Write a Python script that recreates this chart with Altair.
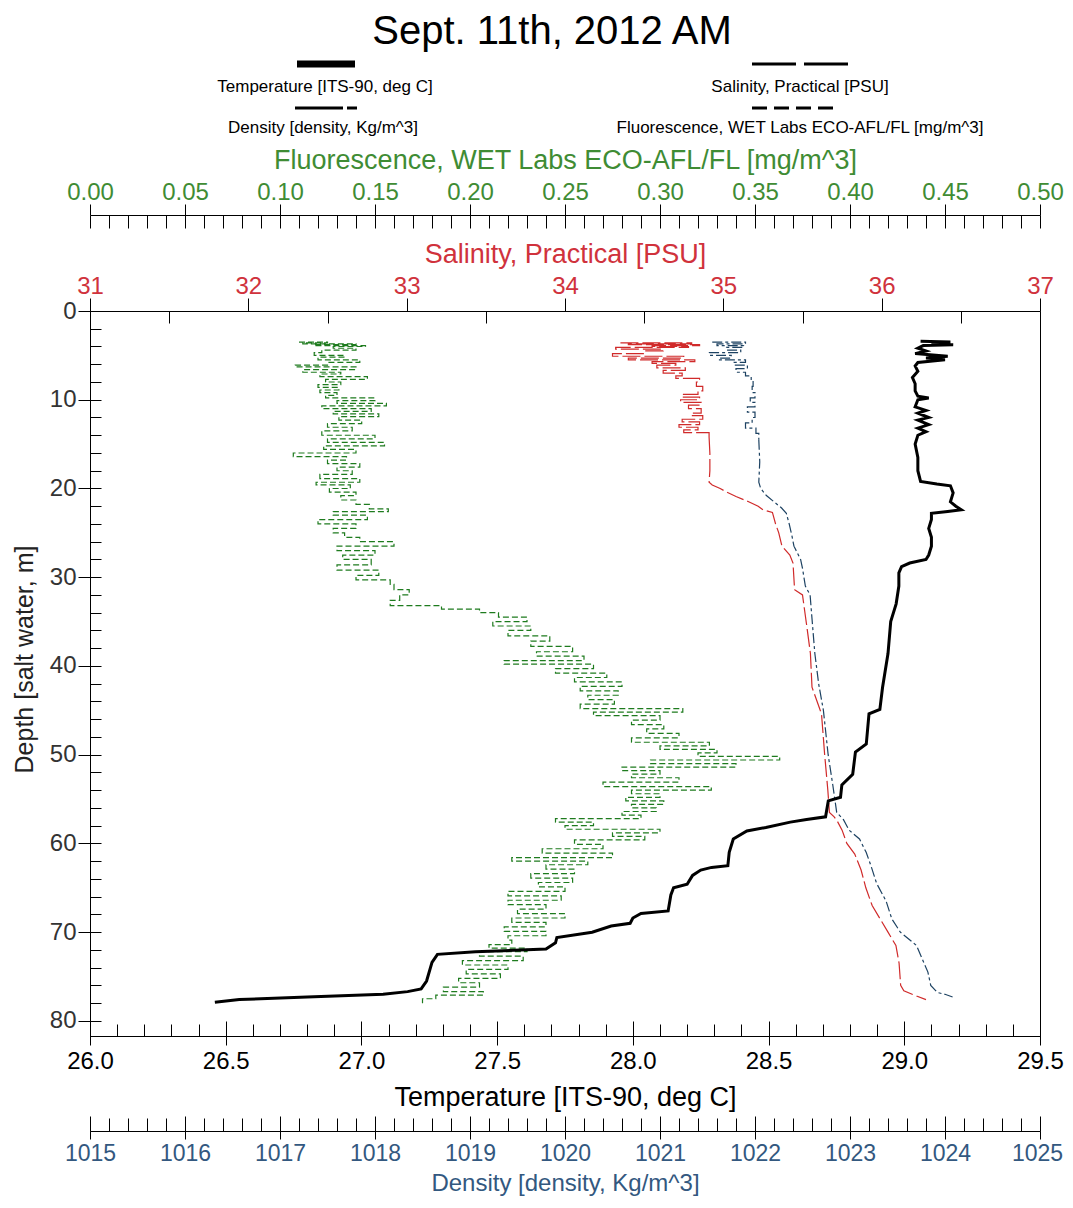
import altair as alt
import pandas as pd

# ---------------- data ----------------
temp_depth = [3.4, 3.5, 3.6, 3.8, 3.9, 4.2, 4.5, 4.8, 5.1, 5.3, 5.5, 5.8, 6.2, 6.8, 7.5, 8.2, 9.0, 9.6, 9.8, 10.0,
              10.8, 11.2, 11.5, 12.0, 12.3, 12.8, 13.2, 13.6, 14.0, 15.0, 16.5, 18.0, 19.2, 19.5, 19.7, 20.5, 21.5,
              22.0, 22.4, 22.6, 22.8, 23.5, 24.5, 25.5, 26.5, 27.5, 28.0, 28.4, 28.8, 29.5, 31.0, 33.0, 35.0, 38.6,
              42.4, 44.9, 45.4, 48.8, 49.7, 52.2, 53.4, 54.8, 55.2, 57.0, 57.3, 57.6, 58.2, 58.6, 59.5, 61.0, 62.5,
              62.7, 63.0, 63.6, 64.6, 65.0, 65.8, 67.6, 67.9, 68.4, 69.0, 69.3, 70.0, 70.6, 71.2, 71.9, 72.2, 72.5,
              73.4, 75.5, 76.4, 76.7, 77.0, 77.3, 77.6, 77.9]
temp_value = [29.06, 29.17, 29.10, 29.18, 29.07, 29.05, 29.08, 29.04, 29.16, 29.08, 29.15, 29.05, 29.04, 29.05,
              29.03, 29.04, 29.04, 29.05, 29.09, 29.05, 29.04, 29.08, 29.05, 29.09, 29.05, 29.09, 29.05, 29.08,
              29.05, 29.04, 29.05, 29.05, 29.06, 29.12, 29.17, 29.18, 29.17, 29.19, 29.21, 29.16, 29.10, 29.10,
              29.09, 29.10, 29.10, 29.09, 29.08, 29.02, 28.99, 28.98, 28.98, 28.97, 28.95, 28.94, 28.92, 28.91,
              28.87, 28.86, 28.82, 28.81, 28.77, 28.765, 28.72, 28.71, 28.64, 28.58, 28.49, 28.42, 28.37, 28.355,
              28.35, 28.29, 28.25, 28.22, 28.20, 28.15, 28.14, 28.13, 28.03, 28.00, 27.99, 27.92, 27.85, 27.72,
              27.715, 27.68, 27.42, 27.28, 27.26, 27.24, 27.22, 27.17, 27.08, 26.80, 26.55, 26.46]

sal_depth = [3.6, 3.7, 3.8, 3.9, 4.0, 4.1, 4.3, 4.5, 4.8, 5.1, 5.3, 5.5, 5.7, 5.9, 6.1, 6.4, 6.7, 7.0, 7.3, 7.6,
             8.0, 8.5, 9.0, 9.4, 9.7, 10.0, 10.3, 10.6, 11.0, 11.5, 11.8, 12.2, 12.5, 12.8, 13.1, 13.4, 13.7, 14.2,
             16.0, 18.0, 19.3, 19.6, 20.0, 20.4, 20.9, 21.5, 22.0, 22.4, 22.7, 24.0, 25.0, 26.5, 27.5, 28.4, 31.4,
             32.0, 35.9, 38.6, 42.4, 45.4, 50.0, 54.0, 56.5, 57.0, 57.5, 58.5, 60.0, 61.2, 63.0, 65.0, 67.0, 68.5,
             70.0, 71.5, 73.5, 76.0, 76.6, 77.2, 77.6]
sal_value = [34.35, 34.80, 34.40, 34.85, 34.55, 34.78, 34.32, 34.62, 34.50, 34.30, 34.75, 34.40, 34.82, 34.55,
             34.70, 34.58, 34.76, 34.62, 34.74, 34.70, 34.85, 34.83, 34.87, 34.84, 34.74, 34.85, 34.73, 34.86,
             34.78, 34.86, 34.80, 34.87, 34.74, 34.85, 34.72, 34.84, 34.75, 34.91, 34.915, 34.915, 34.91, 34.93,
             34.98, 35.02, 35.08, 35.16, 35.22, 35.25, 35.31, 35.33, 35.35, 35.37, 35.42, 35.44, 35.45, 35.50,
             35.53, 35.55, 35.56, 35.62, 35.64, 35.66, 35.67, 35.70, 35.72, 35.75, 35.78, 35.83, 35.87, 35.90,
             35.94, 35.99, 36.04, 36.09, 36.11, 36.12, 36.14, 36.22, 36.28]

dens_depth = [3.5, 3.7, 3.9, 4.1, 4.4, 4.7, 5.0, 5.3, 5.5, 5.8, 6.1, 6.5, 6.9, 7.3, 7.8, 8.5, 9.2, 9.8, 10.3, 10.8,
              11.4, 12.0, 12.6, 13.2, 13.8, 14.5, 17.0, 19.3, 20.0, 20.8, 21.5, 22.2, 22.8, 24.0, 25.4, 26.5, 28.0,
              29.0, 31.0, 32.0, 36.0, 38.6, 42.0, 45.0, 50.0, 53.5, 56.5, 57.3, 58.5, 59.5, 61.0, 62.5, 64.5, 66.5,
              68.5, 70.0, 71.5, 73.5, 74.5, 76.0, 76.8, 77.0, 77.3]
dens_value = [1021.55, 1021.90, 1021.60, 1021.88, 1021.70, 1021.85, 1021.52, 1021.75, 1021.62, 1021.90, 1021.78,
              1021.92, 1021.80, 1021.90, 1021.96, 1021.98, 1021.97, 1022.00, 1021.95, 1022.00, 1021.92, 1022.00,
              1021.97, 1021.90, 1022.01, 1022.04, 1022.05, 1022.04, 1022.06, 1022.12, 1022.20, 1022.28, 1022.33,
              1022.36, 1022.39, 1022.41, 1022.48, 1022.50, 1022.53, 1022.58, 1022.61, 1022.63, 1022.67, 1022.72,
              1022.77, 1022.82, 1022.86, 1022.93, 1022.99, 1023.10, 1023.17, 1023.22, 1023.28, 1023.38, 1023.44,
              1023.53, 1023.70, 1023.78, 1023.82, 1023.85, 1023.92, 1024.00, 1024.08]

fluo_depth = [3.5, 3.6, 3.7, 3.8, 3.9, 4.0, 4.2, 4.4, 4.7, 5.0, 5.2, 5.5, 5.8, 6.1, 6.3, 6.6, 6.9, 7.1, 7.4, 7.7,
              8.0, 8.3, 8.6, 8.9, 9.2, 9.5, 9.8, 10.1, 10.4, 10.7, 11.0, 11.3, 11.6, 11.9, 12.3, 12.7, 13.1, 13.5,
              14.0, 14.4, 14.8, 15.2, 15.6, 16.0, 16.4, 16.8, 17.2, 17.6, 18.0, 18.4, 18.9, 19.3, 19.6, 20.0, 20.4,
              20.8, 21.3, 21.8, 22.3, 22.6, 23.0, 23.5, 24.0, 24.5, 25.0, 25.5, 26.0, 26.5, 27.0, 27.5, 28.0, 28.6,
              29.2, 29.8, 30.3, 30.8, 31.4, 32.0, 32.6, 33.2, 33.6, 34.0, 34.5, 35.0, 35.5, 36.0, 36.6, 37.2, 37.8,
              38.4, 38.9, 39.4, 39.8, 40.3, 40.8, 41.3, 41.8, 42.3, 42.8, 43.3, 43.8, 44.3, 44.8, 45.2, 45.6, 46.1,
              46.6, 47.1, 47.6, 48.1, 48.6, 49.0, 49.4, 49.8, 50.2, 50.6, 51.0, 51.4, 51.8, 52.2, 52.6, 53.1, 53.6,
              54.0, 54.4, 54.8, 55.2, 55.6, 56.0, 56.4, 56.8, 57.2, 57.6, 58.0, 58.4, 58.8, 59.2, 59.6, 60.1, 60.6,
              61.1, 61.6, 62.0, 62.4, 62.9, 63.4, 63.9, 64.4, 64.9, 65.4, 65.9, 66.4, 66.9, 67.4, 67.9, 68.4, 68.9,
              69.4, 69.9, 70.4, 70.9, 71.4, 71.8, 72.2, 72.7, 73.2, 73.7, 74.2, 74.7, 75.2, 75.7, 76.2, 76.7, 77.1,
              77.5, 78.0]
fluo_value = [0.110, 0.125, 0.112, 0.140, 0.118, 0.145, 0.128, 0.140, 0.122, 0.118, 0.134, 0.120, 0.142, 0.125,
              0.108, 0.140, 0.112, 0.132, 0.121, 0.146, 0.124, 0.132, 0.120, 0.131, 0.121, 0.130, 0.124, 0.150,
              0.130, 0.156, 0.122, 0.148, 0.128, 0.152, 0.131, 0.143, 0.125, 0.138, 0.122, 0.150, 0.125, 0.155,
              0.123, 0.140, 0.107, 0.135, 0.125, 0.142, 0.130, 0.138, 0.121, 0.142, 0.119, 0.137, 0.126, 0.140,
              0.132, 0.140, 0.147, 0.157, 0.128, 0.146, 0.120, 0.140, 0.128, 0.134, 0.142, 0.160, 0.130, 0.150,
              0.133, 0.148, 0.130, 0.152, 0.140, 0.158, 0.160, 0.168, 0.163, 0.158, 0.185, 0.205, 0.215, 0.230,
              0.212, 0.232, 0.220, 0.242, 0.232, 0.254, 0.235, 0.260, 0.218, 0.265, 0.245, 0.272, 0.255, 0.280,
              0.258, 0.278, 0.262, 0.276, 0.258, 0.312, 0.265, 0.300, 0.285, 0.302, 0.293, 0.310, 0.285, 0.326,
              0.300, 0.330, 0.320, 0.363, 0.295, 0.340, 0.280, 0.300, 0.285, 0.310, 0.270, 0.327, 0.285, 0.300,
              0.282, 0.302, 0.285, 0.298, 0.280, 0.290, 0.245, 0.265, 0.250, 0.300, 0.275, 0.292, 0.255, 0.270,
              0.238, 0.275, 0.222, 0.262, 0.240, 0.255, 0.232, 0.254, 0.236, 0.250, 0.220, 0.248, 0.220, 0.240,
              0.225, 0.250, 0.222, 0.240, 0.218, 0.240, 0.220, 0.222, 0.210, 0.230, 0.205, 0.228, 0.196, 0.220,
              0.198, 0.216, 0.194, 0.205, 0.186, 0.207, 0.182, 0.175]

# axis tick labels
depth_ticks = [0, 10, 20, 30, 40, 50, 60, 70, 80]
temp_ticks = [26.0, 26.5, 27.0, 27.5, 28.0, 28.5, 29.0, 29.5]
sal_ticks = [31, 32, 33, 34, 35, 36, 37]
sal_half_ticks = [31.5, 32.5, 33.5, 34.5, 35.5, 36.5]
dens_ticks = [1015, 1016, 1017, 1018, 1019, 1020, 1021, 1022, 1023, 1024, 1025]
fluo_ticks = [0.00, 0.05, 0.10, 0.15, 0.20, 0.25, 0.30, 0.35, 0.40, 0.45, 0.50]
temp_minor = [round(26 + i * 0.1, 2) for i in range(36)]
dens_minor = [round(1015 + i * 0.2, 2) for i in range(51)]
fluo_minor = [round(i * 0.01, 3) for i in range(51)]
depth_minor = [i * 2 for i in range(41)]

# ---------------- layout & style ----------------
W, H = 950, 725
FONT = "Liberation Sans"
GREEN_DATA, GREEN_TXT = "#1e7b1e", "#3f8c34"
RED_DATA, RED_TXT = "#d02a2a", "#d0323c"
BLUE_DATA, BLUE_TXT = "#1d4262", "#33587f"

temp_df = pd.DataFrame({"depth": temp_depth, "v": temp_value, "i": range(len(temp_depth))})
sal_df = pd.DataFrame({"depth": sal_depth, "v": sal_value, "i": range(len(sal_depth))})
dens_df = pd.DataFrame({"depth": dens_depth, "v": dens_value, "i": range(len(dens_depth))})
fluo_df = pd.DataFrame({"depth": fluo_depth, "v": fluo_value, "i": range(len(fluo_depth))})
one = pd.DataFrame({"k": [0]})

# noisy near-surface parts are drawn as horizontal steps, the rest as plain lines
sal_top, sal_low = sal_df[sal_df.depth <= 14.2], sal_df[sal_df.depth >= 14.2]
dens_top, dens_low = dens_df[dens_df.depth <= 14.5], dens_df[dens_df.depth >= 14.5]

yscale = alt.Scale(domain=[0, 81.7], reverse=True, nice=False, zero=False)
y_noaxis = alt.Y("depth:Q", scale=yscale, axis=None)


def xs(dom):
    return alt.Scale(domain=dom, nice=False, zero=False)


def lab_axis(**kw):
    base = dict(grid=False, labelFont=FONT, titleFont=FONT, labelFontSize=24, titleFontSize=27,
                titleFontWeight="normal", labelOverlap=False, labelFlush=False, labelBound=False,
                domainColor="black", tickColor="black", tickWidth=1, domainWidth=1)
    base.update(kw)
    return alt.Axis(**base)


def tick_layer(df, dom, orient, offset, values, size):
    return alt.Chart(df).mark_point(opacity=0, size=1).encode(
        x=alt.X("v:Q", scale=xs(dom),
                axis=alt.Axis(orient=orient, offset=offset, values=values, tickSize=size, labels=False,
                              domain=False, title="", grid=False, tickColor="black", tickWidth=1)),
        y=y_noaxis,
    )


def plain_line(df, dom, color, dash, interp):
    return alt.Chart(df).mark_line(color=color, strokeWidth=1.2, strokeDash=dash, interpolate=interp).encode(
        x=alt.X("v:Q", scale=xs(dom), axis=None), y=y_noaxis, order="i:Q")


# data layers
fluo_line = alt.Chart(fluo_df).mark_line(color=GREEN_DATA, strokeWidth=1.2, strokeDash=[6, 3],
                                         interpolate="step-after").encode(
    x=alt.X("v:Q", scale=xs([0, 0.5]),
            axis=lab_axis(orient="top", offset=96, values=fluo_ticks, format=".2f", tickSize=11, labelPadding=0,
                          labelColor=GREEN_TXT, title="Fluorescence, WET Labs ECO-AFL/FL [mg/m^3]",
                          titleColor=GREEN_TXT, titlePadding=6)),
    y=y_noaxis, order="i:Q")

dens_line = alt.Chart(dens_low).mark_line(color=BLUE_DATA, strokeWidth=1.2, strokeDash=[10, 3, 3, 3]).encode(
    x=alt.X("v:Q", scale=xs([1015, 1025]),
            axis=lab_axis(orient="bottom", offset=95, values=dens_ticks, format="d", tickSize=8, labelPadding=3,
                          labelFontSize=23, labelColor=BLUE_TXT, title="Density [density, Kg/m^3]",
                          titleColor=BLUE_TXT, titleFontSize=24, titlePadding=6,
                          labelOffset={"condition": {"test": "datum.value === 1025", "value": -3}, "value": 0})),
    y=y_noaxis, order="i:Q")
dens_top_line = plain_line(dens_top, [1015, 1025], BLUE_DATA, [10, 3, 3, 3], "step-after")

sal_line = alt.Chart(sal_low).mark_line(color=RED_DATA, strokeWidth=1.2, strokeDash=[18, 4]).encode(
    x=alt.X("v:Q", scale=xs([31, 37]),
            axis=lab_axis(orient="top", offset=0, values=sal_ticks, format="d", tickSize=13, labelPadding=0,
                          labelColor=RED_TXT, title="Salinity, Practical [PSU]", titleColor=RED_TXT,
                          titlePadding=6)),
    y=y_noaxis, order="i:Q")
sal_top_line = plain_line(sal_top, [31, 37], RED_DATA, [18, 4], "step-after")

temp_line = alt.Chart(temp_df).mark_line(color="black", strokeWidth=3, strokeJoin="miter").encode(
    x=alt.X("v:Q", scale=xs([26, 29.5]),
            axis=lab_axis(orient="bottom", offset=0, values=temp_ticks, format=".1f", tickSize=9, labelPadding=4,
                          labelColor="black", title="Temperature [ITS-90, deg C]", titleColor="black",
                          titlePadding=11)),
    y=alt.Y("depth:Q", scale=yscale,
            axis=lab_axis(orient="left", values=depth_ticks, format="d", tickSize=12, labelPadding=2,
                          labelColor="#333333", title="Depth [salt water, m]", titleColor="#222222",
                          titleFontSize=25, titlePadding=12, titleY=348)),
    order="i:Q")

# extra tick-only axes (inner ticks)
ticks = [
    tick_layer(fluo_df, [0, 0.5], "bottom", -(H + 96), fluo_minor, 13),
    tick_layer(sal_df, [31, 37], "bottom", -H, sal_half_ticks, 12),
    tick_layer(temp_df, [26, 29.5], "top", -H, temp_minor, 12),
    tick_layer(temp_df, [26, 29.5], "top", -H, temp_ticks, 15),
    tick_layer(dens_df, [1015, 1025], "top", -(H + 95), dens_minor, 13),
    tick_layer(dens_df, [1015, 1025], "top", -(H + 95), dens_ticks, 15),
]
depth_minor_layer = alt.Chart(temp_df).mark_point(opacity=0, size=1).encode(
    y=alt.Y("depth:Q", scale=yscale,
            axis=alt.Axis(orient="right", offset=-W, values=depth_minor, tickSize=11, labels=False,
                          domain=False, title="", grid=False, tickColor="black")))

# legend + title (drawn above the plot)
def txt(s, x, y, size, color="black"):
    return alt.Chart(one).mark_text(text=s, font=FONT, fontSize=size, color=color, align="center",
                                    baseline="middle").encode(x=alt.value(x), y=alt.value(y))


def sample(x1, x2, y, width, dash=None):
    kw = dict(color="black", strokeWidth=width, strokeCap="butt")
    if dash:
        kw["strokeDash"] = dash
    return alt.Chart(one).mark_rule(**kw).encode(x=alt.value(x1), x2=alt.value(x2), y=alt.value(y))


legend = [
    txt("Sept. 11th, 2012 AM", 462, -279, 40),
    sample(207, 265, -247, 7),
    txt("Temperature [ITS-90, deg C]", 235, -224, 17),
    sample(662, 758, -247, 3, [44, 8]),
    txt("Salinity, Practical [PSU]", 710, -224, 17),
    sample(205, 267, -203, 3, [48, 4, 10, 60]),
    txt("Density [density, Kg/m^3]", 233, -183, 17),
    sample(662, 743, -203, 3, [15, 7]),
    txt("Fluorescence, WET Labs ECO-AFL/FL [mg/m^3]", 710, -183, 17),
]

chart = alt.layer(
    fluo_line, dens_top_line, dens_line, sal_top_line, sal_line, temp_line, *ticks, depth_minor_layer, *legend
).resolve_scale(x="independent", y="shared").resolve_axis(x="independent", y="independent").properties(
    width=W, height=H,
    padding={"left": 82, "top": 303, "right": 25, "bottom": 160},
    autosize=alt.AutoSizeParams(type="none"),
).configure_view(stroke="black", strokeWidth=1)

chart.save("out.html", embed_options={"renderer": "svg", "actions": False})
